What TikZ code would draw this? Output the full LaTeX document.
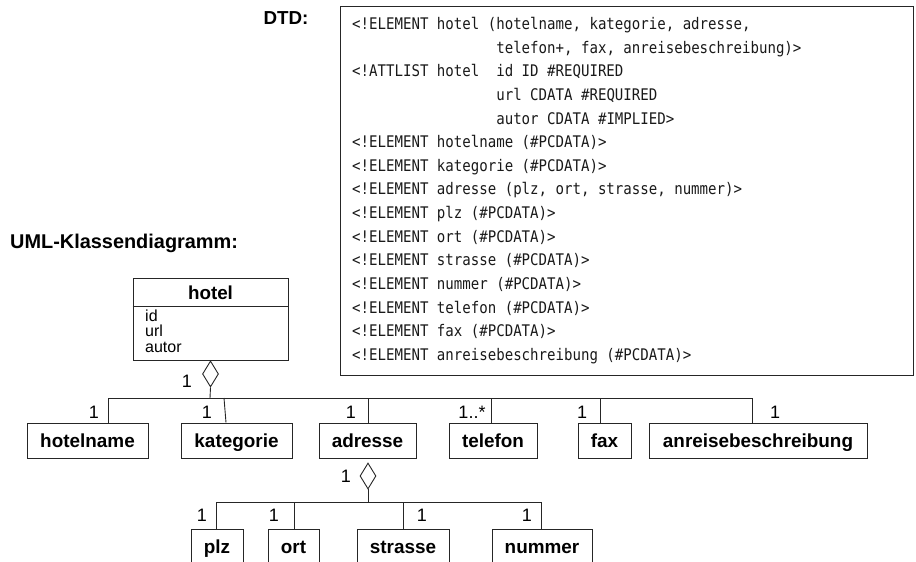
\documentclass[tikz,border=0pt]{standalone}
\usepackage{fontspec}
\setmainfont{Liberation Sans}
\newfontfamily\dtdfont{DejaVu Sans Mono}[FakeStretch=0.88]
\usetikzlibrary{shapes.geometric}

\begin{document}
\begin{tikzpicture}[x=1pt,y=-1pt,
  ln/.style={draw=black!85, line width=0.9pt},
  frame/.style={draw=black!85, line width=1pt, inner sep=0pt},
  cls/.style={frame, minimum height=35pt, text height=13.5pt, text depth=0pt,
              font=\fontsize{18.9}{21}\selectfont\bfseries},
  agg/.style={diamond, draw=black!85, line width=0.9pt, fill=white,
              minimum width=16pt, minimum height=26pt, inner sep=0pt},
  mult/.style={inner sep=0pt, font=\fontsize{18}{20}\selectfont},
  attr/.style={anchor=west, inner sep=0pt, text height=11pt, text depth=3pt,
               font=\fontsize{16}{18}\selectfont},
  heading/.style={inner sep=0pt, font=\fontsize{18.8}{21}\selectfont\bfseries},
  dtdline/.style={anchor=base west, inner sep=0pt, text=black!90,
                  font=\dtdfont\fontsize{16}{19}\selectfont}]

\useasboundingbox (0,0) rectangle (916,562);
\clip (0,0) rectangle (916,562);

% ---------- headings ----------
\node[heading] (dtdhead) at (286,18) {DTD:};
\node[heading, anchor=west, font=\fontsize{19.9}{22}\selectfont\bfseries]
  (umlhead) at (10,243) {UML-Klassendiagramm:};

% ---------- DTD listing ----------
\node[frame, anchor=north west, minimum width=573pt, minimum height=369pt] (dtd) at (340,6) {};
\foreach \i/\t in {
  0/{<!ELEMENT hotel (hotelname, kategorie, adresse,},
  1/{\phantom{<!ELEMENT hotel (}telefon+, fax, anreisebeschreibung)>},
  2/{<!ATTLIST hotel\phantom{xx}id ID \#REQUIRED},
  3/{\phantom{<!ELEMENT hotel (}url CDATA \#REQUIRED},
  4/{\phantom{<!ELEMENT hotel (}autor CDATA \#IMPLIED>},
  5/{<!ELEMENT hotelname (\#PCDATA)>},
  6/{<!ELEMENT kategorie (\#PCDATA)>},
  7/{<!ELEMENT adresse (plz, ort, strasse, nummer)>},
  8/{<!ELEMENT plz (\#PCDATA)>},
  9/{<!ELEMENT ort (\#PCDATA)>},
  10/{<!ELEMENT strasse (\#PCDATA)>},
  11/{<!ELEMENT nummer (\#PCDATA)>},
  12/{<!ELEMENT telefon (\#PCDATA)>},
  13/{<!ELEMENT fax (\#PCDATA)>},
  14/{<!ELEMENT anreisebeschreibung (\#PCDATA)>}}
  \node[dtdline] (dtd\i) at (352,{29.5+23.64*\i}) {\t};

% ---------- class hotel ----------
\node[frame, minimum width=155pt, minimum height=82pt] (hotel) at (210.5,319) {};
\draw[ln] (hotel.west |- 0,306) -- (hotel.east |- 0,306);
\node[heading] (hoteltitle) at (210.5,293) {hotel};
\node[attr] (aid) at (145,317) {id};
\node[attr] (aurl) at (145,332) {url};
\node[attr] (aautor) at (145,348) {autor};

% aggregation hotel -> children
\node[agg, anchor=north] (agg1) at (hotel.south) {};
\node[mult] (m0) at (187,381) {1};
\coordinate (b1) at (210,398);
\coordinate (b1l) at (108,398);
\coordinate (b1r) at (753,398);
\draw[ln] (agg1.south) -- (b1);
\draw[ln] (b1l) -- (b1r);

% child classes of hotel
\node[cls, minimum width=121pt] (hotelname) at (87.5,440.5) {hotelname};
\node[cls, minimum width=111pt] (kategorie) at (236.5,440.5) {kategorie};
\node[cls, minimum width=97pt]  (adresse)   at (367.5,440.5) {adresse};
\node[cls, minimum width=88pt]  (telefon)   at (493,440.5)   {telefon};
\node[cls, minimum width=53pt]  (fax)       at (604.5,440.5) {fax};
\node[cls, minimum width=218pt] (anreise)   at (758,440.5)   {anreisebeschreibung};

\coordinate (d1) at (108,398);
\coordinate (d2) at (224,398);
\coordinate (d3) at (368,398);
\coordinate (d4) at (491,398);
\coordinate (d5) at (600,398);
\coordinate (d6) at (752,398);
\draw[ln] (d1) -- (d1 |- hotelname.north);
\draw[ln] (d2) -- ([xshift=2pt]d2 |- kategorie.north);
\draw[ln] (d3) -- (d3 |- adresse.north);
\draw[ln] (d4) -- (d4 |- telefon.north);
\draw[ln] (d5) -- (d5 |- fax.north);
\draw[ln] (d6) -- (d6 |- anreise.north);

\node[mult] (m1) at (94,412)  {1};
\node[mult] (m2) at (207,412) {1};
\node[mult] (m3) at (351,412) {1};
\node[mult] (m4) at (472,412) {1..*};
\node[mult] (m5) at (582,412) {1};
\node[mult] (m6) at (775,412) {1};

% ---------- aggregation adresse -> children ----------
\node[agg] (agg2) at (368,476) {};
\node[mult] (m7) at (346,476) {1};
\coordinate (b2) at (368,502);
\coordinate (b2l) at (216,502);
\coordinate (b2r) at (542,502);
\draw[ln] (agg2.south) -- (b2);
\draw[ln] (b2l) -- (b2r);

\node[cls, minimum width=52pt]  (plz)     at (217,546.5)   {plz};
\node[cls, minimum width=51pt]  (ort)     at (293.5,546.5) {ort};
\node[cls, minimum width=92pt]  (strasse) at (403,546.5)   {strasse};
\node[cls, minimum width=100pt] (nummer)  at (542,546.5)   {nummer};

\coordinate (e1) at (216,502);
\coordinate (e2) at (294,502);
\coordinate (e3) at (403,502);
\coordinate (e4) at (541,502);
\draw[ln] (e1) -- (e1 |- plz.north);
\draw[ln] (e2) -- (e2 |- ort.north);
\draw[ln] (e3) -- (e3 |- strasse.north);
\draw[ln] (e4) -- (e4 |- nummer.north);

\node[mult] (m8)  at (202,515) {1};
\node[mult] (m9)  at (274,515) {1};
\node[mult] (m10) at (422,515) {1};
\node[mult] (m11) at (527,515) {1};
\end{tikzpicture}
\end{document}
